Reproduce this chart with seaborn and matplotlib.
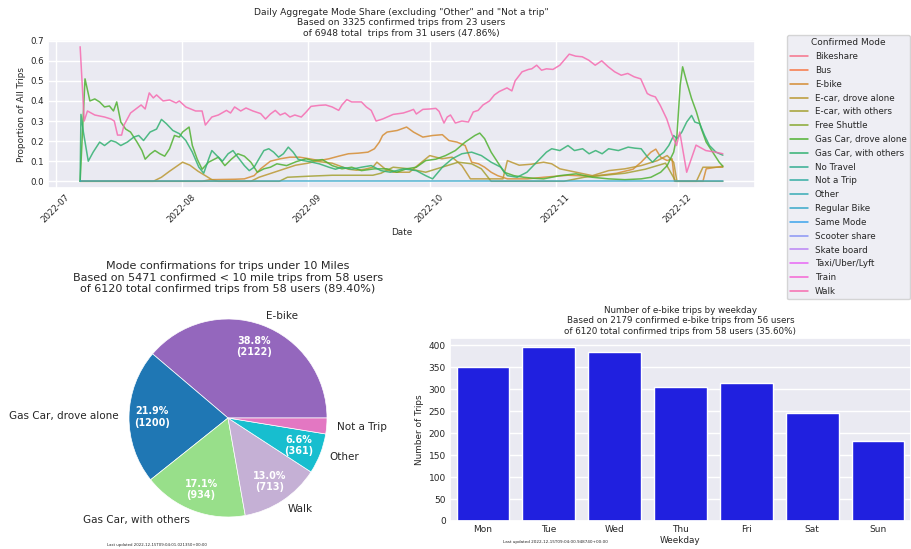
import numpy as np
import pandas as pd
import matplotlib
matplotlib.use("Agg")
import matplotlib.pyplot as plt
from matplotlib.lines import Line2D
import seaborn as sns

# ---------------- data: daily aggregate mode share (day offsets from 2022-07-01) ----------------
modes = ["Bikeshare", "Bus", "E-bike", "E-car, drove alone", "E-car, with others",
         "Free Shuttle", "Gas Car, drove alone", "Gas Car, with others", "No Travel",
         "Not a Trip", "Other", "Regular Bike", "Same Mode", "Scooter share",
         "Skate board", "Taxi/Uber/Lyft", "Train", "Walk"]

walk_days = [6, 7, 7.8, 9.6, 12, 13.6, 14.4, 15.2, 16.2, 16.8, 18.4, 21, 22, 23, 24, 24.8, 26.4, 28,
             29.6, 30.4, 32, 34.4, 36, 36.8, 37.6, 38.4, 40, 42, 43, 44, 45.5, 46.8, 48.5, 50.4, 51.6,
             52.8, 54, 55.2, 56.4, 57.6, 58.8, 60.4, 61.6, 62.8, 64.8, 66.4, 68, 69.6, 70.4, 71.6, 72.8,
             74, 75.2, 76.4, 77.6, 78.8, 80.4, 83, 85.5, 87, 88, 88.7, 90.3, 92, 93.5, 94.3, 95.5, 96.3,
             97.1, 98.3, 99.9, 101.5, 102.7, 103.9, 105.1, 106.7, 107.9, 109.1, 111, 112.2, 113, 114.7,
             116.3, 117.1, 118.3, 119.5, 120.7, 122.3, 124, 126.3, 127.9, 129.5, 131.1, 132.7, 134.3,
             135.9, 137.5, 139.1, 140.7, 142.3, 143.9, 145.5, 146.3, 147.5, 148.7, 150.3, 151.5, 152.7,
             153.5, 155.2, 157.5, 159.9, 162.3, 164.1]
walk_vals = [0.67, 0.30, 0.35, 0.33, 0.32, 0.31, 0.30, 0.23, 0.23, 0.28, 0.34, 0.38, 0.36, 0.44, 0.415,
             0.43, 0.40, 0.405, 0.39, 0.40, 0.37, 0.35, 0.35, 0.28, 0.30, 0.32, 0.33, 0.353, 0.34, 0.37,
             0.35, 0.365, 0.35, 0.337, 0.31, 0.335, 0.353, 0.33, 0.34, 0.32, 0.33, 0.32, 0.345, 0.373,
             0.378, 0.38, 0.37, 0.353, 0.38, 0.407, 0.395, 0.395, 0.395, 0.37, 0.353, 0.30, 0.31, 0.333,
             0.34, 0.35, 0.358, 0.335, 0.358, 0.36, 0.363, 0.348, 0.29, 0.32, 0.33, 0.29, 0.30, 0.295,
             0.345, 0.353, 0.38, 0.40, 0.43, 0.447, 0.465, 0.45, 0.50, 0.545, 0.557, 0.56, 0.578, 0.553,
             0.56, 0.557, 0.578, 0.633, 0.623, 0.62, 0.603, 0.578, 0.60, 0.57, 0.545, 0.528, 0.537, 0.52,
             0.51, 0.437, 0.428, 0.42, 0.378, 0.31, 0.237, 0.178, 0.245, 0.045, 0.18, 0.153, 0.145, 0.137]

gas_alone_days = [6, 7.2, 8.4, 9.6, 10.8, 12, 13.2, 14.2, 15, 16, 17.2, 18.4, 20, 21.2, 22, 23.2, 24.4,
                  25.6, 26.8, 28, 29.2, 30.4, 31.2, 32.8, 33.6, 34.8, 36, 37.6, 40, 41.6, 43.2, 44.8,
                  46.4, 48, 49.6, 51.2, 52.8, 54.4, 56.8, 59.2, 61.6, 63.2, 65.6, 68, 70.4, 72.8, 75.2,
                  78.4, 81.5, 83.9, 86.3, 88.7, 91, 93.5, 95.9, 98.3, 100.7, 103.1, 104.3, 105.5, 107.1,
                  108.7, 110.3, 112.7, 115.1, 117.5, 120, 124, 128, 132, 136, 140, 144, 146.4, 148.8,
                  150.4, 152, 152.8, 153.6, 154.2, 155.2, 156.4, 157.6, 158.8, 160, 161.6, 163.2, 164.1]
gas_alone_vals = [0.0, 0.51, 0.40, 0.41, 0.395, 0.37, 0.375, 0.35, 0.395, 0.295, 0.26, 0.245, 0.195,
                  0.153, 0.11, 0.135, 0.153, 0.137, 0.125, 0.162, 0.228, 0.22, 0.245, 0.27, 0.178, 0.11,
                  0.06, 0.095, 0.12, 0.078, 0.11, 0.137, 0.125, 0.095, 0.045, 0.062, 0.07, 0.087, 0.078,
                  0.098, 0.112, 0.103, 0.108, 0.078, 0.062, 0.07, 0.053, 0.062, 0.062, 0.045, 0.062, 0.07,
                  0.103, 0.11, 0.128, 0.153, 0.195, 0.228, 0.24, 0.212, 0.145, 0.095, 0.045, 0.028, 0.02,
                  0.015, 0.012, 0.028, 0.037, 0.02, 0.012, 0.008, 0.012, 0.02, 0.045, 0.078, 0.145, 0.228,
                  0.478, 0.57, 0.495, 0.412, 0.345, 0.262, 0.195, 0.145, 0.095, 0.075]

gas_others_days = [6, 6.2, 6.8, 8, 9.2, 10.8, 12, 13.6, 14.8, 16, 17.6, 19.2, 20.4, 21.6, 23.2, 24.8, 26,
                   27.2, 28.8, 30.4, 32, 33.6, 35.2, 36.4, 37.6, 38.4, 39.6, 41, 42.4, 43.6, 44.8, 46.4,
                   47.6, 48.8, 50, 51.2, 52.4, 53.6, 54.8, 56, 57.2, 58.4, 59.6, 60.8, 62.4, 64.8, 67.2,
                   68.8, 70.4, 72.8, 75.2, 77.6, 80, 82.3, 85.5, 88.7, 91, 92.7, 95.1, 97.5, 99.9, 102.3,
                   104.7, 107.1, 109.5, 111.1, 113.5, 115.9, 118.3, 120.7, 122, 124, 126, 127.6, 129.6,
                   131.2, 132.8, 134.4, 136, 138.4, 140.8, 142.4, 144, 145.6, 146.8, 148, 149.6, 150.8,
                   152, 152.8, 154, 155.2, 156.4, 157.2, 158.4, 159.6, 160.8, 162.4, 164.1]
gas_others_vals = [0.0, 0.333, 0.245, 0.10, 0.145, 0.195, 0.178, 0.203, 0.195, 0.178, 0.195, 0.22, 0.228,
                   0.203, 0.245, 0.26, 0.308, 0.287, 0.253, 0.237, 0.203, 0.145, 0.07, 0.04, 0.11, 0.153,
                   0.128, 0.10, 0.137, 0.153, 0.12, 0.078, 0.053, 0.07, 0.112, 0.153, 0.162, 0.145, 0.12,
                   0.137, 0.17, 0.145, 0.11, 0.103, 0.098, 0.087, 0.07, 0.06, 0.07, 0.06, 0.07, 0.078,
                   0.053, 0.045, 0.062, 0.053, 0.028, 0.012, 0.07, 0.112, 0.137, 0.145, 0.128, 0.095, 0.07,
                   0.028, 0.02, 0.045, 0.095, 0.145, 0.162, 0.153, 0.178, 0.153, 0.162, 0.137, 0.153,
                   0.137, 0.162, 0.153, 0.17, 0.165, 0.162, 0.12, 0.095, 0.12, 0.145, 0.178, 0.228, 0.212,
                   0.245, 0.295, 0.328, 0.295, 0.287, 0.228, 0.178, 0.145, 0.13]

ebike_days = [6, 36, 38, 44, 46.4, 48.8, 50.4, 52.8, 55.2, 57.6, 60, 62.4, 64.8, 67.2, 69.6, 72, 74.4,
              76.8, 78.4, 79.6, 80.4, 81.5, 84, 86.3, 88, 90.3, 92.7, 95.1, 96.7, 98.7, 100.7, 102.3, 104,
              105.5, 107.1, 108.7, 111.1, 116, 120, 126, 132, 138, 142, 144, 146.4, 147.6, 148.8, 150.4,
              151.6, 152.2, 159.2, 160, 164.1]
ebike_vals = [0.0, 0.0, 0.008, 0.01, 0.012, 0.028, 0.062, 0.10, 0.112, 0.12, 0.12, 0.112, 0.103, 0.112,
              0.125, 0.137, 0.14, 0.145, 0.162, 0.195, 0.228, 0.245, 0.253, 0.27, 0.245, 0.22, 0.228,
              0.232, 0.203, 0.195, 0.178, 0.095, 0.087, 0.07, 0.045, 0.028, 0.012, 0.012, 0.02, 0.03,
              0.025, 0.04, 0.06, 0.095, 0.145, 0.16, 0.12, 0.103, 0.112, 0.0, 0.0, 0.062, 0.075]

ecar_alone_days = [6, 24, 26, 28, 31.2, 33, 35, 36.8, 38.4, 40, 48, 50, 53, 56, 59, 62, 64, 66, 68, 70,
                   72, 74, 76, 78, 79, 81, 83, 87, 90, 92, 95, 97.5, 99.9, 102, 110, 111.1, 114, 117, 120,
                   122, 124, 128, 132, 136, 140, 144, 148, 150.4, 152, 152.8, 157.6, 159.2, 164.1]
ecar_alone_vals = [0.0, 0.0, 0.02, 0.05, 0.095, 0.08, 0.05, 0.028, 0.008, 0.0, 0.0, 0.02, 0.04, 0.06,
                   0.08, 0.09, 0.10, 0.095, 0.09, 0.075, 0.06, 0.055, 0.06, 0.07, 0.095, 0.062, 0.045,
                   0.045, 0.095, 0.128, 0.112, 0.12, 0.078, 0.012, 0.012, 0.103, 0.08, 0.085, 0.095, 0.087,
                   0.062, 0.045, 0.028, 0.053, 0.062, 0.078, 0.103, 0.128, 0.095, 0.0, 0.0, 0.07, 0.07]

ecar_others_days = [6, 55, 57, 62, 68, 74, 78, 80, 83, 87, 91, 95, 99, 102.3, 104.7, 107.1, 125, 130,
                    135, 140, 145, 150, 152.5, 164.1]
ecar_others_vals = [0.0, 0.0, 0.02, 0.025, 0.03, 0.03, 0.03, 0.04, 0.07, 0.062, 0.045, 0.07, 0.095,
                    0.087, 0.062, 0.0, 0.0, 0.02, 0.03, 0.04, 0.06, 0.09, 0.0, 0.0]

regbike_days = [6, 164.1]
regbike_vals = [0.0, 0.0]

# ---------------- data: pie ----------------
pie_labels = ["E-bike", "Gas Car, drove alone", "Gas Car, with others", "Walk", "Other", "Not a Trip"]
pie_counts = [2122, 1200, 934, 713, 361, 141]
pie_colors = ["#9467bd", "#1f77b4", "#98df8a", "#c5b0d5", "#17becf", "#e377c2"]

# ---------------- data: bars ----------------
weekdays = ["Mon", "Tue", "Wed", "Thu", "Fri", "Sat", "Sun"]
weekday_trips = [351, 397, 384, 306, 314, 245, 182]

# ---------------- build long table ----------------
series = {
    "E-bike": (ebike_days, ebike_vals),
    "E-car, drove alone": (ecar_alone_days, ecar_alone_vals),
    "E-car, with others": (ecar_others_days, ecar_others_vals),
    "Gas Car, drove alone": (gas_alone_days, gas_alone_vals),
    "Gas Car, with others": (gas_others_days, gas_others_vals),
    "Regular Bike": (regbike_days, regbike_vals),
    "Walk": (walk_days, walk_vals),
}
base = pd.Timestamp("2022-07-01")
frames = []
for m, (d, v) in series.items():
    frames.append(pd.DataFrame({"Date": base + pd.to_timedelta(d, unit="D"),
                                "share": v, "Confirmed Mode": m}))
df = pd.concat(frames, ignore_index=True)

sns.set_theme(style="darkgrid")
plt.rcParams["font.family"] = ["DejaVu Sans"]

W, H = 911, 549
fig = plt.figure(figsize=(W / 100, H / 100), dpi=100)


def rect(l, t, r, b):
    return [l / W, 1 - b / H, (r - l) / W, (b - t) / H]


pal = dict(zip(modes, sns.color_palette("husl", len(modes))))

# ---------------- top: line chart ----------------
ax1 = fig.add_axes(rect(48, 40, 755, 188))
sns.lineplot(data=df, x="Date", y="share", hue="Confirmed Mode", hue_order=modes,
             palette=pal, errorbar=None, linewidth=1.1, alpha=0.85, legend=False, ax=ax1)
ax1.set_title('Daily Aggregate Mode Share (excluding "Other" and "Not a trip"\n'
              'Based on 3325 confirmed trips from 23 users\n'
              'of 6948 total  trips from 31 users (47.86%)', fontsize=6.6, pad=3)
ax1.set_ylabel("Proportion of All Trips", fontsize=6.4, labelpad=3)
ax1.set_xlabel("Date", fontsize=6.4, labelpad=3)
ax1.tick_params(axis="both", labelsize=6.2, pad=3, length=0)
for lab in ax1.get_xticklabels():
    lab.set_rotation(45)
handles = [Line2D([0], [0], color=pal[m], lw=1.1) for m in modes]
leg = ax1.legend(handles, modes, title="Confirmed Mode", loc="upper left",
                 bbox_to_anchor=(1.045, 1.035), borderaxespad=0, fontsize=6.3,
                 title_fontsize=6.5, frameon=True, handlelength=2.0, labelspacing=0.55)

# ---------------- bottom left: pie ----------------
ax2 = fig.add_axes(rect(104.25, 294.25, 351.75, 541.75))
total = sum(pie_counts)


def fmt(p):
    return f"{p:.1f}%\n({int(round(p * total / 100))})" if p >= 3 else ""


wedges, texts, autotexts = ax2.pie(pie_counts, labels=pie_labels, colors=pie_colors, autopct=fmt,
                                   startangle=0, pctdistance=0.77, labeldistance=1.1,
                                   textprops={"fontsize": 7.5},
                                   wedgeprops={"edgecolor": "white", "linewidth": 0.5})
for t in autotexts:
    t.set_color("white")
    t.set_fontweight("bold")
    t.set_fontsize(6.9)
ax2.set_title("Mode confirmations for trips under 10 Miles\n"
              "Based on 5471 confirmed < 10 mile trips from 58 users\n"
              "of 6120 total confirmed trips from 58 users (89.40%)", fontsize=8.0, pad=0)
fig.text(157 / W, 1 - 545 / H, "Last updated 2022-12-15T09:04:01.021350+00:00",
         fontsize=2.8, ha="center", va="center")

# ---------------- bottom right: bars ----------------
ax3 = fig.add_axes(rect(450, 338, 911, 521))
sns.barplot(x=weekdays, y=weekday_trips, color="blue", ax=ax3)
ax3.set_title("Number of e-bike trips by weekday\n"
              "Based on 2179 confirmed e-bike trips from 56 users\n"
              "of 6120 total confirmed trips from 58 users (35.60%)", fontsize=6.3, pad=3)
ax3.set_ylabel("Number of Trips", fontsize=6.4, labelpad=3)
ax3.set_xlabel("Weekday", fontsize=6.4, labelpad=1)
ax3.tick_params(axis="both", labelsize=6.5, pad=3, length=0)
fig.text(555 / W, 1 - 541.5 / H, "Last updated 2022-12-15T09:04:00.948740+00:00",
         fontsize=3.0, ha="center", va="center")

fig.savefig("out.png", dpi=100, facecolor="white")
